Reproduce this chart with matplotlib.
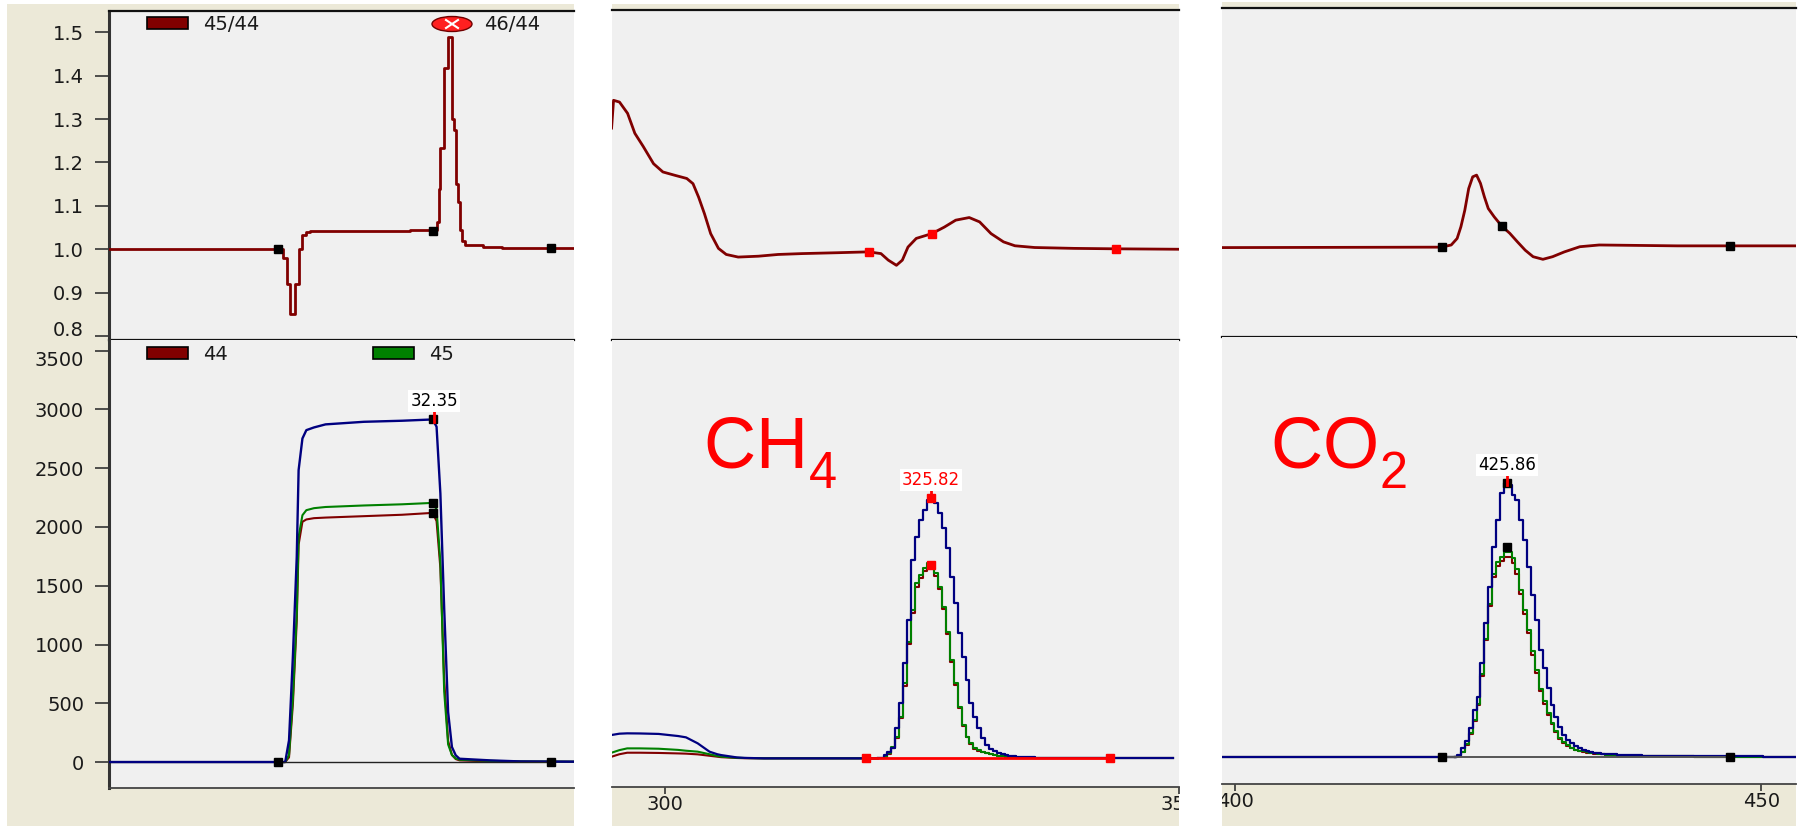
import numpy as np
import matplotlib
matplotlib.use("Agg")
import matplotlib.pyplot as plt
from matplotlib.patches import Rectangle, Ellipse
from matplotlib.lines import Line2D
from matplotlib.transforms import Affine2D

plt.rcParams['font.family'] = ['DejaVu Sans']
plt.rcParams['mathtext.fontset'] = 'custom'
plt.rcParams['mathtext.rm'] = 'Liberation Sans'
plt.rcParams['mathtext.it'] = 'Liberation Sans'
plt.rcParams['mathtext.bf'] = 'Liberation Sans:bold'
plt.rcParams['mathtext.default'] = 'regular'
try:  # lower the chemical-formula subscripts a bit more
    import matplotlib._mathtext as _mt
    _mt.FontConstantsBase.sub1 = 0.55
    _mt.FontConstantsBase.subdrop = 0.55
except Exception:
    pass

# ====================== DATA ======================
# ---- Panel 1: reference gas pulse (time in s) ----
ref_t   = [0.8, 17.89, 18.26, 18.64, 19.01, 19.19, 19.56, 19.94, 20.68, 21.8, 25.52, 29.22,
           32.2, 32.57, 32.94, 33.31, 33.69, 34.06, 34.43, 34.8, 37.78, 40.75, 45.9]
ref_m46 = [0, 0, 185, 908, 1746, 2484, 2753, 2824, 2847, 2873, 2895, 2904,
           2915, 2853, 2285, 1306, 426, 128, 57, 28, 14, 5, 3]
ref_m45 = [0, 0, 60, 553, 1263, 1916, 2100, 2143, 2160, 2170, 2183, 2193,
           2205, 2150, 1700, 600, 150, 60, 30, 20, 10, 5, 3]
ref_m44 = [0, 0, 40, 500, 1200, 1850, 2044, 2064, 2075, 2080, 2092, 2104,
           2120, 2050, 1650, 700, 180, 60, 25, 14, 5, 3, 2]

ref_ratio_t = [0.8, 17.71, 18.08, 18.34, 18.82, 19.19, 19.56, 19.94, 20.31, 25.0, 30.0,
               32.2, 32.57, 32.8, 32.94, 33.31, 33.69, 34.06, 34.24, 34.43, 34.61, 34.8,
               34.99, 35.36, 37.03, 38.88, 45.9]
ref_ratio_4544 = [1.0, 0.979, 0.92, 0.85, 0.92, 1.0, 1.033, 1.04, 1.042, 1.043, 1.044,
                  1.045, 1.064, 1.14, 1.233, 1.417, 1.49, 1.30, 1.275, 1.15, 1.11, 1.045,
                  1.02, 1.01, 1.006, 1.002, 1.002]
ref_mark_t = [17.16, 32.2, 43.71]
ref_mark_ratio = [1.0, 1.043, 1.002]
ref_peak_marks = [2915, 2205, 2120]

# ---- Panel 2: CH4 ----
ch4_t = [294.76, 295.52, 296.28, 297.5, 299.34, 301.24, 302.0, 303.14, 304.29, 305.05,
         305.42, 306.95, 307.7, 309.6,
         320.67, 321.05, 321.43, 321.81, 322.19, 322.57, 322.95, 323.33, 323.71, 324.09,
         324.47, 324.85, 325.23, 325.61, 325.99, 326.37, 326.75, 327.13, 327.51, 327.89,
         328.27, 328.65, 329.03, 329.41, 329.79, 330.17, 330.55, 330.93, 331.31, 331.69,
         332.07, 332.45, 332.83, 333.21, 333.59, 333.97, 334.35, 334.73, 335.11, 335.49,
         336.5, 340.0, 349.4]
ch4_m46 = [199, 210, 213, 212, 208, 190, 179, 128, 57, 35, 28, 8, 4, 0,
           0, 0, 28, 50, 85, 255, 468, 809, 1178, 1689,
           1888, 2029, 2115, 2200, 2214, 2171, 2086, 1959, 1788, 1547,
           1320, 1064, 866, 667, 470, 355, 255, 170, 114, 80,
           65, 45, 37, 28, 20, 16, 13, 11, 9, 8,
           4, 1, 0]
ch4_m45 = [48, 70, 85, 85, 82, 72, 65, 57, 35, 20, 15, 5, 3, 0,
           0, 0, 10, 43, 100, 184, 355, 639, 993, 1263,
           1490, 1561, 1618, 1660, 1646, 1576, 1462, 1291, 1079, 837,
           639, 440, 284, 184, 128, 85, 70, 57, 45, 35,
           28, 22, 18, 14, 11, 9, 7, 6, 5, 4,
           2, 1, 0]
ch4_m44 = [14, 35, 48, 48, 46, 42, 40, 34, 22, 14, 10, 3, 1, 0,
           0, 0, 8, 35, 90, 170, 340, 620, 970, 1240,
           1460, 1535, 1595, 1635, 1625, 1555, 1440, 1270, 1060, 820,
           625, 430, 275, 178, 122, 80, 66, 53, 42, 33,
           26, 20, 16, 12, 10, 8, 6, 5, 4, 3,
           2, 0, 0]
ch4_ratio_t = [294.76, 294.95, 295.52, 296.3, 297.0, 297.8, 298.8, 299.7, 300.9, 302.0,
               302.6, 303.14, 303.7, 304.3, 305.05, 305.8, 306.95, 308.9, 310.8, 313.1,
               316.5, 319.5, 320.7, 321.4, 322.19, 322.76, 323.3, 324.1, 325.6, 326.8,
               327.9, 329.2, 330.2, 331.3, 332.5, 333.6, 335.5, 339.3, 343.3, 349.4]
ch4_ratio = [1.279, 1.343, 1.339, 1.313, 1.267, 1.237, 1.197, 1.178, 1.170, 1.163,
             1.151, 1.120, 1.082, 1.036, 1.002, 0.988, 0.982, 0.984, 0.988, 0.990,
             0.992, 0.994, 0.990, 0.975, 0.963, 0.975, 1.005, 1.025, 1.036, 1.051,
             1.067, 1.073, 1.063, 1.036, 1.017, 1.008, 1.004, 1.002, 1.001, 1.0]
ch4_bounds = [319.52, 343.33]
ch4_ratio_marks = [0.994, 1.036, 1.001]
ch4_ratio_mark_t = [319.52, 325.6, 343.33]
ch4_peak_marks = [2214, 1650]

# ---- Panel 3: CO2 ----
co2_t = [398.76, 419.62,
         420.91, 421.28, 421.65, 422.02, 422.39, 422.76, 423.13, 423.5, 423.87, 424.24,
         424.61, 424.98, 425.35, 425.72, 426.09, 426.46, 426.83, 427.2, 427.57, 427.94,
         428.31, 428.68, 429.05, 429.42, 429.79, 430.16, 430.53, 430.9, 431.27, 431.64,
         432.01, 432.38, 432.75, 433.12, 433.49, 433.86, 434.23, 434.6, 434.97, 435.34,
         437.2, 440.2, 447.0, 453.3]
co2_m46 = [0, 0,
           0, 14, 71, 130, 240, 400, 511, 795, 1135, 1448,
           1788, 2015, 2242, 2328, 2313, 2228, 2186, 2015, 1845, 1618,
           1377, 1164, 908, 752, 582, 440, 341, 255, 184, 145,
           114, 90, 71, 60, 50, 43, 35, 29, 25, 23,
           11, 6, 2, 0]
co2_m45 = [0, 0,
           0, 5, 43, 110, 200, 312, 450, 700, 1000, 1300,
           1560, 1660, 1700, 1740, 1746, 1690, 1600, 1420, 1250, 1080,
           900, 740, 580, 470, 370, 290, 220, 160, 125, 95,
           75, 60, 52, 44, 38, 33, 29, 26, 22, 18,
           8, 4, 1, 0]
co2_m44 = [0, 0,
           0, 4, 38, 100, 190, 300, 440, 690, 990, 1280,
           1530, 1620, 1665, 1700, 1705, 1650, 1560, 1385, 1215, 1050,
           870, 715, 560, 450, 355, 275, 208, 150, 117, 88,
           70, 56, 48, 41, 35, 30, 26, 23, 20, 16,
           7, 3, 1, 0]
co2_ratio_t = [398.76, 419.62, 420.54, 421.1, 421.46, 421.83, 422.2, 422.58, 422.95, 423.32,
               423.69, 424.06, 424.62, 425.36, 426.1, 426.84, 427.57, 428.32, 429.25, 430.17,
               431.28, 432.76, 434.6, 438.3, 442.0, 447.02, 453.3]
co2_ratio = [0.999, 1.0, 1.005, 1.020, 1.047, 1.085, 1.135, 1.162, 1.166, 1.147,
             1.116, 1.089, 1.070, 1.048, 1.032, 1.012, 0.993, 0.978, 0.972, 0.978,
             0.989, 1.001, 1.005, 1.004, 1.003, 1.003, 1.003]
co2_bounds = [419.62, 447.02]
co2_ratio_mark_t = [419.62, 425.36, 447.02]
co2_ratio_marks = [1.0, 1.048, 1.003]
co2_peak_marks = [2330, 1790]

# ---- peak annotations ----
peak_rt = [32.35, 325.82, 425.86]
peak_top = [2915, 2214, 2330]

ratio_ticks = [0.8, 0.9, 1.0, 1.1, 1.2, 1.3, 1.4, 1.5]
intensity_ticks = [0, 500, 1000, 1500, 2000, 2500, 3000, 3500]
ch4_xticks = [300, 350]
co2_xticks = [400, 450]

# ====================== FIGURE ======================
W, H = 1801, 826
fig = plt.figure(figsize=(W / 100, H / 100), dpi=100)
fig.patch.set_facecolor('white')
PX = Affine2D().scale(1 / W, -1 / H).translate(0, 1) + fig.transFigure

BEIGE = '#ECE9D8'
PLOT_BG = '#F0F0F0'
C44, C45, C46 = '#800000', '#008000', '#000080'
TXT = '#1a1a1a'
TFS = 14


def axes_px(l, t, r, b):
    return fig.add_axes([l / W, 1 - b / H, (r - l) / W, (b - t) / H])


def panel_rect(x, y, w, h):
    r = Rectangle((x, y), w, h, transform=PX, facecolor=BEIGE, edgecolor='none', zorder=-5)
    fig.add_artist(r)
    return r


rects = [panel_rect(7, 4, 567, 822), panel_rect(612, 4, 567, 822), panel_rect(1222, 2, 574, 824)]


def base_style(ax, top=False, bottom=False, left=False, topw=1.6, botw=1.6, botc='#111111'):
    ax.set_facecolor(PLOT_BG)
    for s in ax.spines.values():
        s.set_visible(False)
    if top:
        ax.spines['top'].set_visible(True)
        ax.spines['top'].set_linewidth(topw)
        ax.spines['top'].set_color('#111111')
    if bottom:
        ax.spines['bottom'].set_visible(True)
        ax.spines['bottom'].set_linewidth(botw)
        ax.spines['bottom'].set_color(botc)
    if left:
        ax.spines['left'].set_visible(True)
        ax.spines['left'].set_linewidth(2.2)
        ax.spines['left'].set_color('#333333')
    ax.set_xticks([])
    ax.set_yticks([])


def clip_labels(labels, rect):
    for lb in labels:
        lb.set_clip_path(rect)
        lb.set_clip_on(True)


# ---------- Panel 1 ----------
ax1t = axes_px(109, 11, 574, 340)
ax1b = axes_px(109, 340, 574, 788)
for ax in (ax1t, ax1b):
    ax.set_xlim(0.8, 45.9)
base_style(ax1t, top=True, bottom=True, left=True)
base_style(ax1b, bottom=True, left=True, botw=1.3, botc='#444444')
ax1t.set_ylim(0.791, 1.549)
ax1b.set_ylim(-221, 3591)

ax1t.set_yticks(ratio_ticks)
ax1t.set_yticklabels([f'{v:.1f}' for v in ratio_ticks])
ax1b.set_yticks(intensity_ticks)
ax1b.set_yticklabels([str(v) for v in intensity_ticks])
for ax in (ax1t, ax1b):
    ax.tick_params(axis='y', direction='out', length=10, width=1.2, color='#333333',
                   pad=8, labelsize=TFS, labelcolor=TXT)
    clip_labels(ax.get_yticklabels(), rects[0])
# keep the two labels at the panel junction apart
ax1t.get_yticklabels()[0].set_va('baseline')
ax1b.get_yticklabels()[-1].set_va('top')

ax1t.plot(ref_ratio_t, ref_ratio_4544, color=C44, lw=2.0, drawstyle='steps-post', zorder=3)
ax1t.plot(ref_mark_t, ref_mark_ratio, ls='none', marker='s', ms=5.5, color='black', zorder=4)

ax1b.plot(ref_t, ref_m44, color=C44, lw=1.5, zorder=3)
ax1b.plot(ref_t, ref_m45, color=C45, lw=1.5, zorder=3)
ax1b.plot(ref_t, ref_m46, color=C46, lw=1.7, zorder=3)
ax1b.plot([ref_mark_t[0], ref_mark_t[2]], [0, 0], color='#222222', lw=1.0, zorder=4)
ax1b.plot([ref_mark_t[0], ref_mark_t[2]], [0, 0], ls='none', marker='s', ms=5.5, color='black', zorder=5)
ax1b.plot([ref_mark_t[1]] * 3, ref_peak_marks, ls='none', marker='s', ms=5.5, color='black', zorder=5)

# legends panel 1
fig.add_artist(Rectangle((147, 17), 41, 12, transform=PX, facecolor=C44, edgecolor='black', lw=1.2))
fig.text(203 / W, 1 - 24 / H, '45/44', fontsize=TFS, color=TXT, va='center', ha='left')
fig.add_artist(Ellipse((452, 24), 40, 15, transform=PX, facecolor='#ff2020', edgecolor='#700000', lw=1))
fig.add_artist(Line2D([446, 458], [20, 28], transform=PX, color='white', lw=1.5))
fig.add_artist(Line2D([446, 458], [28, 20], transform=PX, color='white', lw=1.5))
t4644 = fig.text(484 / W, 1 - 24 / H, '46/44', fontsize=TFS, color=TXT, va='center', ha='left')
t4644.set_clip_path(rects[0])
fig.add_artist(Rectangle((147, 347), 41, 12, transform=PX, facecolor=C44, edgecolor='black', lw=1.2))
fig.text(203 / W, 1 - 354 / H, '44', fontsize=TFS, color=TXT, va='center', ha='left')
fig.add_artist(Rectangle((373, 347), 41, 12, transform=PX, facecolor=C45, edgecolor='black', lw=1.2))
fig.text(429 / W, 1 - 354 / H, '45', fontsize=TFS, color=TXT, va='center', ha='left')

# ---------- Panel 2 ----------
ax2t = axes_px(612, 10, 1179, 340)
ax2b = axes_px(612, 340, 1179, 787)
for ax in (ax2t, ax2b):
    ax.set_xlim(294.8, 349.4)
base_style(ax2t, top=True, bottom=True)
base_style(ax2b, bottom=True, botw=1.3, botc='#444444')
ax2t.set_ylim(0.791, 1.551)
ax2b.set_ylim(-244, 3563)
ax2b.set_xticks(ch4_xticks)
ax2b.set_xticklabels([str(v) for v in ch4_xticks])
ax2b.tick_params(axis='x', direction='out', length=5, width=1.2, color='#333333',
                 pad=1, labelsize=TFS, labelcolor=TXT)
clip_labels(ax2b.get_xticklabels(), rects[1])

ax2t.plot(ch4_ratio_t, ch4_ratio, color=C44, lw=2.0, zorder=3)
ax2t.plot(ch4_ratio_mark_t, ch4_ratio_marks, ls='none', marker='s', ms=5.5, color='red', zorder=4)

t2 = np.array(ch4_t)
pre = t2 <= 320.67
post = t2 >= 320.67
for vals, c, lw in ((ch4_m44, C44, 1.5), (ch4_m45, C45, 1.5), (ch4_m46, C46, 1.6)):
    v = np.array(vals)
    ax2b.plot(t2[pre], v[pre], color=c, lw=lw, zorder=3)
    ax2b.plot(t2[post], v[post], color=c, lw=lw, drawstyle='steps-mid', zorder=3)
ax2b.plot(ch4_bounds, [0, 0], color='red', lw=2.0, zorder=4)
ax2b.plot(ch4_bounds, [0, 0], ls='none', marker='s', ms=5.5, color='red', zorder=5)
ax2b.plot([peak_rt[1]] * 2, ch4_peak_marks, ls='none', marker='s', ms=5.5, color='red', zorder=5)

# ---------- Panel 3 ----------
ax3t = axes_px(1222, 8, 1796, 337)
ax3b = axes_px(1222, 337, 1796, 784)
for ax in (ax3t, ax3b):
    ax.set_xlim(398.76, 453.3)
base_style(ax3t, top=True, bottom=True)
base_style(ax3b, bottom=True, botw=1.3, botc='#444444')
ax3t.set_ylim(0.793, 1.551)
ax3b.set_ylim(-233, 3575)
ax3b.set_xticks(co2_xticks)
ax3b.set_xticklabels([str(v) for v in co2_xticks])
ax3b.tick_params(axis='x', direction='out', length=5, width=1.2, color='#333333',
                 pad=1, labelsize=TFS, labelcolor=TXT)
clip_labels(ax3b.get_xticklabels(), rects[2])

ax3t.plot(co2_ratio_t, co2_ratio, color=C44, lw=2.0, zorder=3)
ax3t.plot(co2_ratio_mark_t, co2_ratio_marks, ls='none', marker='s', ms=5.5, color='black', zorder=4)

t3 = np.array(co2_t)
pre = t3 <= 420.91
post = t3 >= 420.91
for vals, c, lw in ((co2_m44, C44, 1.5), (co2_m45, C45, 1.5), (co2_m46, C46, 1.6)):
    v = np.array(vals)
    ax3b.plot(t3[pre], v[pre], color=c, lw=lw, zorder=3)
    ax3b.plot(t3[post], v[post], color=c, lw=lw, drawstyle='steps-mid', zorder=3)
ax3b.plot(co2_bounds, [0, 0], color='#555555', lw=1.4, zorder=4)
ax3b.plot(co2_bounds, [0, 0], ls='none', marker='s', ms=5.5, color='black', zorder=5)
ax3b.plot([peak_rt[2]] * 2, co2_peak_marks, ls='none', marker='s', ms=5.5, color='black', zorder=5)

# ---------- peak annotations ----------
label_colors = ['black', 'red', 'black']
for ax, rt, top, lc in zip((ax1b, ax2b, ax3b), peak_rt, peak_top, label_colors):
    ax.plot([rt, rt], [top - 20, top + 95], color='red', lw=2.0, zorder=6)
    ax.annotate(f'{rt:.2f}', xy=(rt, top), xytext=(0, 13), textcoords='offset points',
                ha='center', va='center', fontsize=12, color=lc, zorder=7,
                bbox=dict(boxstyle='square,pad=0.12', facecolor='white', edgecolor='none'))

# ---------- compound labels ----------
fig.text(703 / W, 1 - 468 / H, 'CH$_4$', fontsize=52, color='red', family='Liberation Sans',
         ha='left', va='baseline')
fig.text(1270 / W, 1 - 468 / H, 'CO$_2$', fontsize=52, color='red', family='Liberation Sans',
         ha='left', va='baseline')

fig.savefig('out.png', dpi=100, facecolor='white')
